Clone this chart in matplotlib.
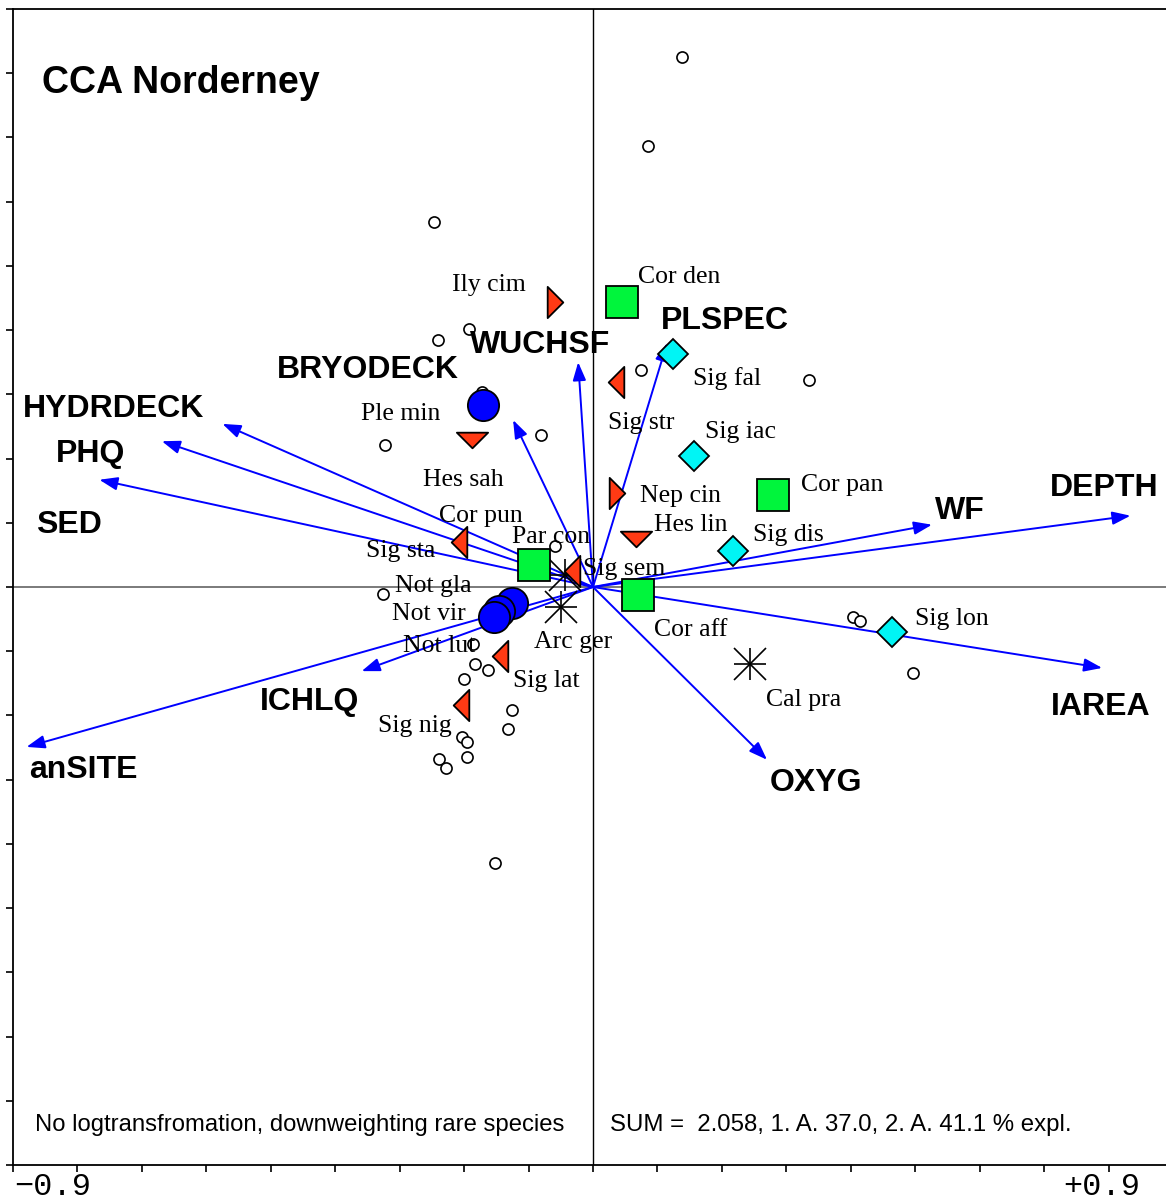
import numpy as np
import matplotlib.pyplot as plt
from matplotlib.path import Path

plt.rcParams['font.family'] = ['Liberation Sans', 'DejaVu Sans']

# environmental variables (biplot arrows)
env_names = ['HYDRDECK', 'PHQ', 'SED', 'anSITE', 'ICHLQ', 'BRYODECK',
             'WUCHSF', 'PLSPEC', 'WF', 'DEPTH', 'IAREA', 'OXYG']
env_x = [-0.575, -0.669, -0.766, -0.879, -0.359, -0.124,
         -0.023, 0.115, 0.526, 0.834, 0.790, 0.270]
env_y = [0.254, 0.227, 0.167, -0.249, -0.131, 0.260,
         0.350, 0.380, 0.097, 0.111, -0.126, -0.269]

# species scores
spec_names = ['Ily cim', 'Sig str', 'Hes sah', 'Nep cin', 'Hes lin', 'Sig sta',
              'Sig sem', 'Sig lat', 'Sig nig',
              'Cor den', 'Cor pan', 'Par con', 'Cor aff',
              'Sig fal', 'Sig iac', 'Sig dis', 'Sig lon',
              'Ple min', 'Not gla', 'Not vir', 'Not lut',
              'Arc ger', 'Cal pra', 'Cor pun']
spec_x = [-0.059, 0.036, -0.188, 0.037, 0.067, -0.208,
          -0.033, -0.144, -0.205,
          0.045, 0.280, -0.092, 0.070,
          0.124, 0.157, 0.217, 0.464,
          -0.171, -0.126, -0.146, -0.154,
          -0.050, 0.244, -0.043]
spec_y = [0.444, 0.319, 0.229, 0.146, 0.075, 0.070,
          0.025, -0.107, -0.184,
          0.444, 0.143, 0.034, -0.012,
          0.363, 0.204, 0.056, -0.070,
          0.283, -0.025, -0.037, -0.047,
          -0.031, -0.120, 0.019]
spec_group = ['tri_r', 'tri_l', 'tri_d', 'tri_r', 'tri_d', 'tri_l',
              'tri_l', 'tri_l', 'tri_l',
              'square', 'square', 'square', 'square',
              'diamond', 'diamond', 'diamond', 'diamond',
              'circle', 'circle', 'circle', 'circle',
              'star', 'star', 'star']

# sample scores
site_x = [0.138, 0.085, -0.247, -0.193, -0.241, 0.075, 0.335, -0.172, -0.081,
          -0.323, -0.059, -0.326, 0.404, 0.415, 0.497, -0.186, -0.183, -0.163,
          -0.200, -0.126, -0.132, -0.203, -0.196, -0.196, -0.239, -0.228, -0.152]
site_y = [0.826, 0.687, 0.569, 0.402, 0.385, 0.338, 0.322, 0.304, 0.237,
          0.221, 0.064, -0.011, -0.047, -0.053, -0.134, -0.089, -0.120, -0.129,
          -0.143, -0.192, -0.221, -0.234, -0.241, -0.265, -0.268, -0.282, -0.430]

# label placement (pixel offsets from the point)
env_label_off = {'HYDRDECK': (-109, 15), 'PHQ': (-71, -13), 'SED': (-30, -45),
                 'anSITE': (57, -23), 'ICHLQ': (-52, -31), 'BRYODECK': (-145, 50),
                 'WUCHSF': (-38, 17), 'PLSPEC': (58, 22), 'WF': (28, 14),
                 'DEPTH': (-26, 28), 'IAREA': (-1, -39), 'OXYG': (49, -23)}
spec_label_off = {'Ily cim': (-103, 11), 'Cor den': (16, 19), 'Sig fal': (20, -31),
                  'Sig str': (-8, -47), 'Sig iac': (11, 18), 'Ple min': (-122, -15),
                  'Hes sah': (-49, -46), 'Nep cin': (23, -9), 'Cor pan': (28, 4),
                  'Hes lin': (18, 8), 'Sig dis': (20, 10), 'Cor pun': (-126, 53),
                  'Sig sta': (-93, -15), 'Par con': (-22, 22), 'Sig sem': (11, -4),
                  'Not gla': (-117, 11), 'Not vir': (-107, -9), 'Not lut': (-91, -35),
                  'Arc ger': (-27, -41), 'Cor aff': (16, -41), 'Sig lat': (13, -31),
                  'Sig nig': (-83, -27), 'Sig lon': (23, 7), 'Cal pra': (16, -42)}

RED = '#FF3A14'
GREEN = '#00F53C'
CYAN = '#00F5F5'
BLUE = '#0000FF'

TRI_L = Path([(-0.5, 0), (0.5, 1), (0.5, -1), (-0.5, 0)], closed=True)
TRI_R = Path([(0.5, 0), (-0.5, 1), (-0.5, -1), (0.5, 0)], closed=True)
TRI_D = Path([(-1, 0.5), (1, 0.5), (0, -0.5), (-1, 0.5)], closed=True)

styles = {
    'tri_l': dict(marker=TRI_L, ms=22.5, mfc=RED),
    'tri_r': dict(marker=TRI_R, ms=22.5, mfc=RED),
    'tri_d': dict(marker=TRI_D, ms=22.5, mfc=RED),
    'square': dict(marker='s', ms=23, mfc=GREEN),
    'diamond': dict(marker='D', ms=15.5, mfc=CYAN),
    'circle': dict(marker='o', ms=22.5, mfc=BLUE),
}

W, H = 1166, 1203
fig = plt.figure(figsize=(W / 100, H / 100), dpi=100)
ax = fig.add_axes([13 / W, 38 / H, 1160 / W, 1156 / H])
ax.set_xlim(-0.9, 0.9)
ax.set_ylim(-0.9, 0.9)

ticks = np.round(np.arange(-0.9, 0.91, 0.1), 2)
ax.set_xticks(ticks)
ax.set_yticks(ticks)
ax.set_xticklabels([])
ax.set_yticklabels([])
ax.tick_params(direction='out', length=5, width=1.2, color='black')
ax.spines['right'].set_visible(False)
for s in ['left', 'top', 'bottom']:
    ax.spines[s].set_linewidth(1.3)

ax.axvline(0, color='black', lw=1.0, zorder=1)
ax.axhline(0, color='#707070', lw=1.3, zorder=1)

# arrows
for name, ex, ey in zip(env_names, env_x, env_y):
    ax.annotate('', xy=(ex, ey), xytext=(0, 0),
                arrowprops=dict(arrowstyle='-|>,head_length=0.55,head_width=0.2',
                                color=BLUE, lw=1.4, shrinkA=0, shrinkB=0,
                                mutation_scale=20),
                zorder=2)
    dx, dy = env_label_off[name]
    ax.annotate(name, xy=(ex, ey), xytext=(dx, dy), textcoords='offset pixels',
                ha='center', va='center', fontsize=23, fontweight='bold',
                zorder=6)

# samples
ax.plot(site_x, site_y, ls='none', marker='o', ms=8, mfc='white', mec='black',
        mew=1.2, zorder=3)

# species
spec_x = np.array(spec_x)
spec_y = np.array(spec_y)
spec_group = np.array(spec_group)
for g, st in styles.items():
    m = spec_group == g
    ax.plot(spec_x[m], spec_y[m], ls='none', mec='black', mew=1.3, zorder=4, **st)
m = spec_group == 'star'
ax.plot(spec_x[m], spec_y[m], ls='none', marker='+', ms=23, mew=1.2, color='black', zorder=3.5)
ax.plot(spec_x[m], spec_y[m], ls='none', marker='x', ms=23, mew=1.2, color='black', zorder=3.5)

for name, sx, sy in zip(spec_names, spec_x, spec_y):
    dx, dy = spec_label_off[name]
    ax.annotate(name, xy=(sx, sy), xytext=(dx, dy), textcoords='offset pixels',
                ha='left', va='baseline', fontsize=18.5,
                family=['Liberation Serif', 'DejaVu Serif'], zorder=5)

# texts
fig.text(42 / W, 1 - 93 / H, 'CCA Norderney', fontsize=27, fontweight='bold',
         ha='left', va='baseline')
fig.text(35 / W, 1 - 1131 / H, 'No logtransfromation, downweighting rare species',
         fontsize=17.2, ha='left', va='baseline')
fig.text(610 / W, 1 - 1131 / H, 'SUM =  2.058, 1. A. 37.0, 2. A. 41.1 % expl.',
         fontsize=17.3, ha='left', va='baseline')
fig.text(14 / W, 1 / H, '\u22120.9', fontsize=23,
         family=['Liberation Mono', 'DejaVu Sans Mono'], ha='left', va='bottom')
fig.text(1140 / W, 1 / H, '+0.9', fontsize=23,
         family=['Liberation Mono', 'DejaVu Sans Mono'], ha='right', va='bottom')

fig.savefig('out.png', dpi=100)
